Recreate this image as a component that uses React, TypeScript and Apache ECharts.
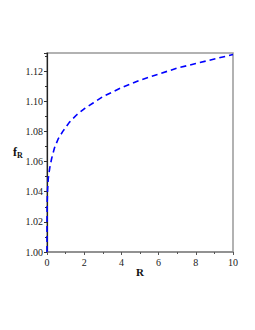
import React, { useEffect, useRef } from "react";
import * as echarts from "echarts";

const rValues = [0, 0.002, 0.01, 0.03, 0.07, 0.15, 0.25, 0.4, 0.6, 0.85, 1.2, 1.6, 2.0, 2.5, 3.0, 3.5, 4.0, 5.0, 6.0, 7.0, 8.0, 9.0, 10];
const fValues = [1.0, 1.022, 1.033, 1.041, 1.049, 1.056, 1.062, 1.069, 1.075, 1.08, 1.086, 1.091, 1.095, 1.099, 1.103, 1.106, 1.109, 1.114, 1.118, 1.122, 1.125, 1.128, 1.131];
const xTicks = [0, 2, 4, 6, 8, 10];
const yTicks = [1.0, 1.02, 1.04, 1.06, 1.08, 1.1, 1.12];

const FONT = "Liberation Serif";

export default function App() {
  const ref = useRef<HTMLDivElement>(null);
  useEffect(() => {
    if (!ref.current) return;
    const chart = echarts.init(ref.current, undefined, { renderer: "svg" });
    const data = rValues.map((r, i) => [r, fValues[i]]);
    chart.setOption({
      animation: false,
      grid: {
        left: 39,
        top: 45,
        right: 14,
        bottom: 70,
        show: true,
        borderColor: "#999",
        borderWidth: 1.5,
        backgroundColor: "transparent",
      },
      xAxis: {
        type: "value",
        min: xTicks[0],
        max: xTicks[xTicks.length - 1],
        interval: 2,
        axisLine: { show: true, lineStyle: { color: "#888", width: 1.5 } },
        axisTick: { show: true, inside: false, length: 3, lineStyle: { color: "#555" } },
        minorTick: { show: true, splitNumber: 2, length: 2, lineStyle: { color: "#555" } },
        splitLine: { show: false },
        axisLabel: { color: "#222", fontFamily: FONT, fontSize: 10, margin: 5 },
      },
      yAxis: {
        type: "value",
        min: yTicks[0],
        max: 1.132,
        interval: 0.02,
        axisLine: { show: true, lineStyle: { color: "#222", width: 1.2 } },
        axisTick: { show: true, inside: false, length: 3, lineStyle: { color: "#333" } },
        minorTick: { show: true, splitNumber: 2, length: 2, lineStyle: { color: "#333" } },
        splitLine: { show: false },
        axisLabel: {
          color: "#222",
          fontFamily: FONT,
          fontSize: 10,
          margin: 4,
          formatter: (v: number) => (yTicks.some((t) => Math.abs(t - v) < 1e-9) ? v.toFixed(2) : ""),
        },
      },
      graphic: [
        {
          type: "text",
          left: 5,
          top: 138,
          style: {
            text: "{a|f}{b|R}",
            rich: {
              a: { fontFamily: FONT, fontWeight: "bold", fontSize: 12, fill: "#111" },
              b: { fontFamily: FONT, fontWeight: "bold", fontSize: 8, fill: "#111", padding: [6, 0, 0, 0] },
            },
          },
        },
        {
          type: "text",
          left: 128,
          top: 258,
          style: { text: "R", fontFamily: FONT, fontWeight: "bold", fontSize: 11, fill: "#111" },
        },
      ],
      series: [
        {
          type: "line",
          data,
          showSymbol: false,
          smooth: false,
          lineStyle: { color: "#0000ff", width: 1.6, type: [6, 4] },
        },
      ],
    });
    return () => chart.dispose();
  }, []);
  return <div ref={ref} style={{ width: 239, height: 314 }} />;
}
